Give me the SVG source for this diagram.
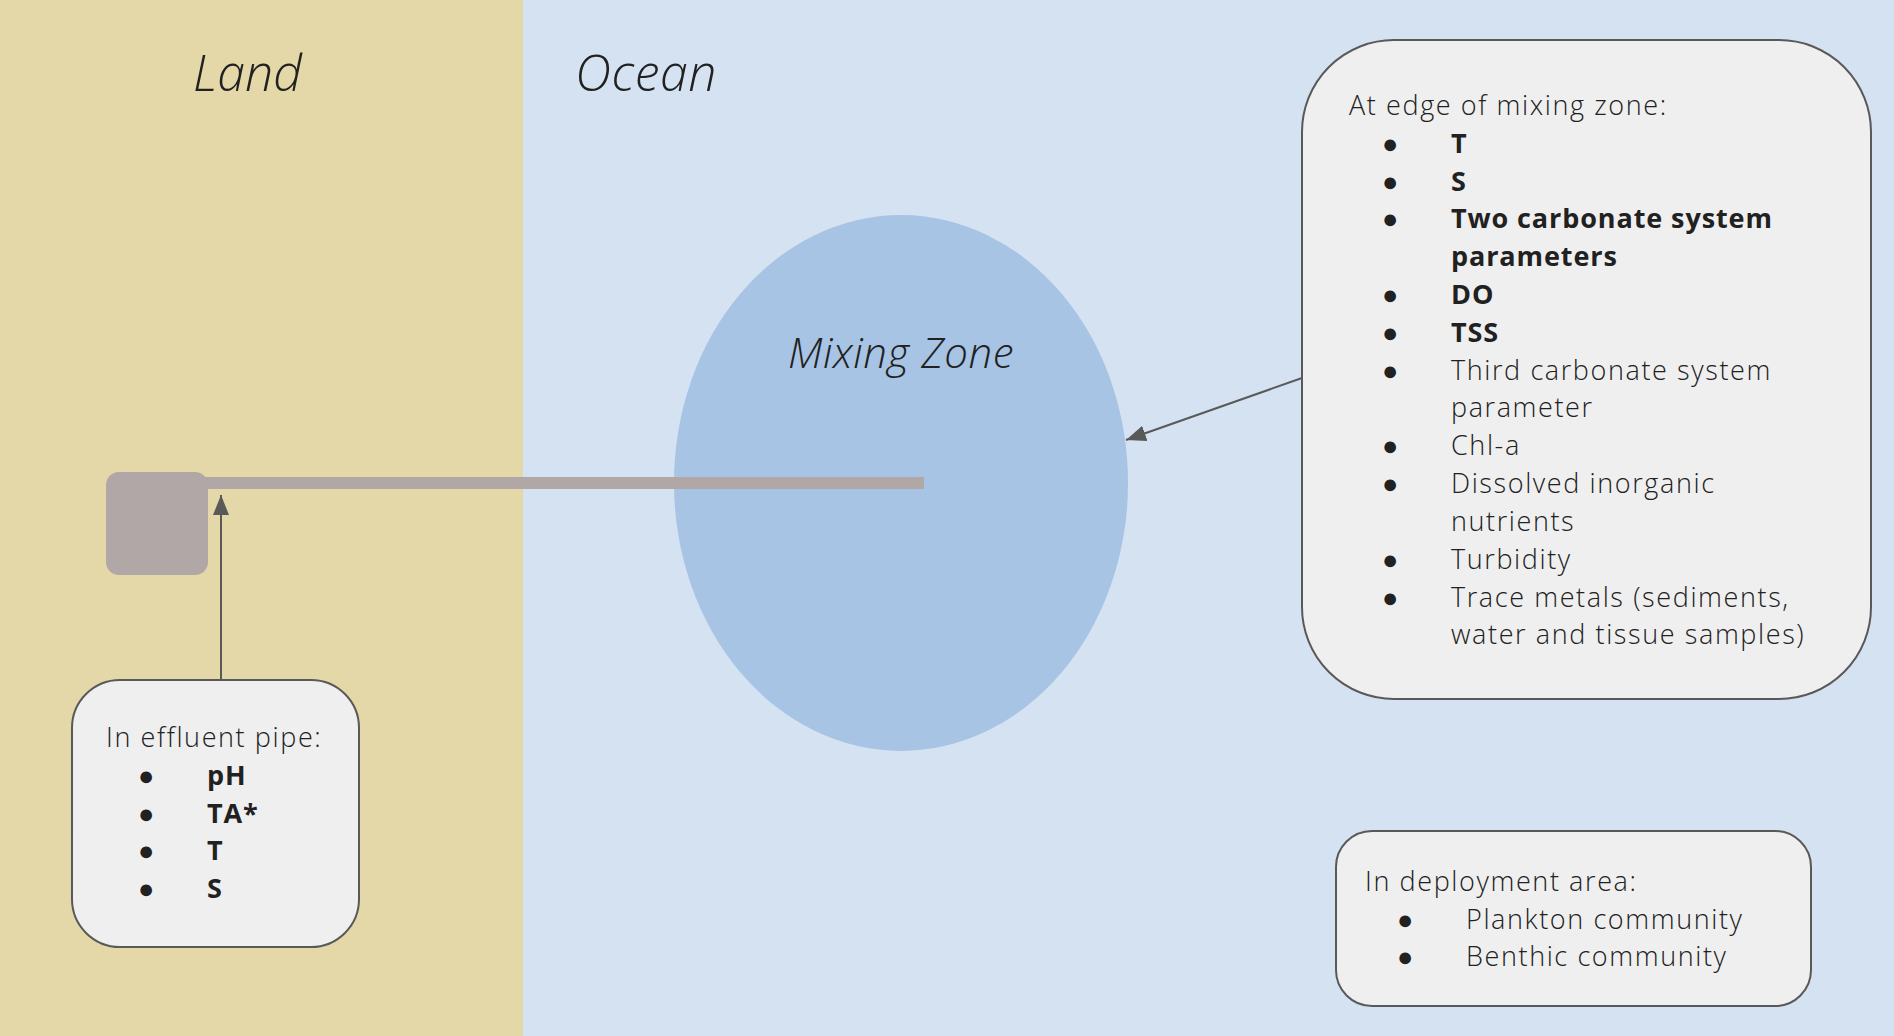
<svg xmlns="http://www.w3.org/2000/svg" width="1894" height="1036" viewBox="0 0 1894 1036">
<style>
.t{font-family:"Open Sans","Liberation Sans",sans-serif;font-size:27px;font-weight:300;fill:#212121;letter-spacing:1.6px}
.b{font-weight:700;letter-spacing:0.9px}
.h{font-family:"Open Sans","Liberation Sans",sans-serif;font-style:italic;font-weight:300;fill:#212121}
.box{fill:#efefef;stroke:#595959;stroke-width:2}
.con{stroke:#595959;stroke-width:2;fill:none}
</style>
<defs>
<marker id="ah2" viewBox="0 0 10 10" refX="10" refY="5" markerWidth="20" markerHeight="16" markerUnits="userSpaceOnUse" orient="auto" preserveAspectRatio="none">
<path d="M0,0 L10,5 L0,10 Z" fill="#595959"/>
</marker>
</defs>
<g id="land"><rect x="0" y="0" width="523" height="1036" fill="#e4d7a8"/><text class="h" x="193" y="91" font-size="50">Land</text></g>
<g id="ocean"><rect x="523" y="0" width="1371" height="1036" fill="#d4e2f2"/><text class="h" x="575" y="91" font-size="50" letter-spacing="0.6">Ocean</text></g>
<g id="mixing-zone"><ellipse cx="901" cy="483" rx="227" ry="268" fill="#a7c4e4"/><text class="h" x="901" y="368" font-size="42" letter-spacing="0.6" text-anchor="middle">Mixing Zone</text></g>
<g id="pipe"><rect x="200" y="477" width="724" height="12" fill="#b2a7a7"/><rect x="106" y="472" width="102" height="103" rx="13" fill="#b2a7a7"/></g>
<g id="connectors">
<line class="con" x1="221" y1="679" x2="221" y2="495" marker-end="url(#ah2)"/>
<line class="con" x1="1302" y1="378" x2="1126" y2="440" marker-end="url(#ah2)"/>
</g>
<g id="effluent-box">
<rect class="box" x="72" y="680" width="287" height="267" rx="48"/>
<text class="t" x="106" y="747">In effluent pipe:</text>
<g class="t"><text x="138" y="785">●</text><text x="138" y="823">●</text><text x="138" y="860">●</text><text x="138" y="898">●</text></g>
<text class="t b" x="207" y="785">pH</text>
<text class="t b" x="207" y="823">TA*</text>
<text class="t b" x="207" y="860">T</text>
<text class="t b" x="207" y="898">S</text>
</g>
<g id="edge-box">
<rect class="box" x="1302" y="40" width="569" height="659" rx="92"/>
<text class="t" x="1349" y="115">At edge of mixing zone:</text>
<g class="t"><text x="1382" y="153">●</text><text x="1382" y="191">●</text><text x="1382" y="228">●</text><text x="1382" y="304">●</text><text x="1382" y="342">●</text><text x="1382" y="380">●</text><text x="1382" y="455">●</text><text x="1382" y="493">●</text><text x="1382" y="569">●</text><text x="1382" y="607">●</text></g>
<text class="t b" x="1451" y="153">T</text>
<text class="t b" x="1451" y="191">S</text>
<text class="t b" x="1451" y="228">Two carbonate system</text>
<text class="t b" x="1451" y="266">parameters</text>
<text class="t b" x="1451" y="304">DO</text>
<text class="t b" x="1451" y="342">TSS</text>
<text class="t" x="1451" y="380">Third carbonate system</text>
<text class="t" x="1451" y="417">parameter</text>
<text class="t" x="1451" y="455">Chl-a</text>
<text class="t" x="1451" y="493">Dissolved inorganic</text>
<text class="t" x="1451" y="531">nutrients</text>
<text class="t" x="1451" y="569">Turbidity</text>
<text class="t" x="1451" y="607">Trace metals (sediments,</text>
<text class="t" x="1451" y="644">water and tissue samples)</text>
</g>
<g id="deployment-box">
<rect class="box" x="1336" y="831" width="475" height="175" rx="36"/>
<text class="t" x="1365" y="891">In deployment area:</text>
<g class="t"><text x="1397" y="929">●</text><text x="1397" y="966">●</text></g>
<text class="t" x="1466" y="929">Plankton community</text>
<text class="t" x="1466" y="966">Benthic community</text>
</g>
</svg>
